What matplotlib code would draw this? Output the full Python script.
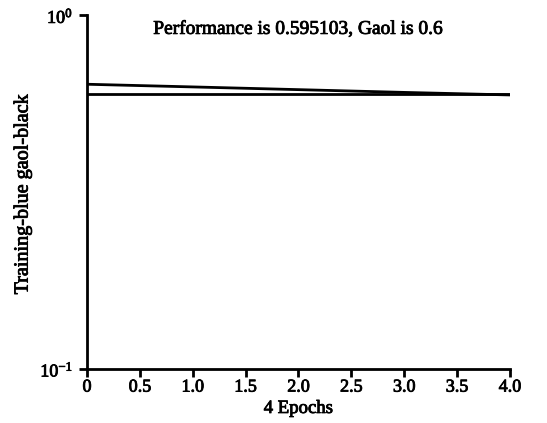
import matplotlib
matplotlib.use("Agg")
from matplotlib import pyplot as plt
from matplotlib import patheffects
from matplotlib.ticker import FixedLocator, NullLocator

plt.rcParams["font.family"] = ["Liberation Serif", "DejaVu Serif"]
plt.rcParams["mathtext.fontset"] = "custom"
plt.rcParams["mathtext.rm"] = "Liberation Serif"
plt.rcParams["mathtext.it"] = "Liberation Serif"

# training performance per epoch and the goal
epochs = [0, 1, 2, 3, 4]
training = [0.638, 0.627, 0.616, 0.605, 0.595103]
goal = [0.6, 0.6, 0.6, 0.6, 0.6]
x_ticks = [0, 0.5, 1.0, 1.5, 2.0, 2.5, 3.0, 3.5, 4.0]
x_tick_labels = ["0", "0.5", "1.0", "1.5", "2.0", "2.5", "3.0", "3.5", "4.0"]
y_ticks = [0.1, 1]
y_tick_labels = [r"$10^{-1}$", r"$10^{0}$"]

# scanned look: slightly heavier strokes on the text
heavy = [patheffects.withStroke(linewidth=0.6, foreground="black")]

fig = plt.figure(figsize=(5.47, 4.23), dpi=100)
ax = fig.add_axes([0.159, 0.128, 0.773, 0.836])

ax.semilogy(epochs, goal, color="black", lw=2)
ax.semilogy(epochs, training, color="black", lw=2)

ax.set_xlim(0, 4)
ax.set_ylim(0.1, 1)
ax.set_xticks(x_ticks)
ax.set_xticklabels(x_tick_labels)
ax.yaxis.set_major_locator(FixedLocator(y_ticks))
ax.yaxis.set_minor_locator(NullLocator())
ax.set_yticklabels(y_tick_labels)

for s in ["top", "right"]:
    ax.spines[s].set_visible(False)
for s in ["left", "bottom"]:
    ax.spines[s].set_linewidth(2)
ax.tick_params(width=2, length=6, labelsize=13, colors="black")
ax.tick_params(axis="x", pad=1)
ax.tick_params(axis="y", pad=4)

title = ax.text(2.0, 0.96, "Performance is 0.595103, Gaol is 0.6",
                transform=ax.get_xaxis_transform(), ha="center", va="center",
                fontsize=14)
ax.set_xlabel("4 Epochs", fontsize=13.5)
ax.set_ylabel("Training-blue gaol-black", fontsize=14.5)
ax.xaxis.set_label_coords(0.5, -0.112)
ax.xaxis.label.set_va("center")
ax.yaxis.set_label_coords(-0.151, 0.493)
ax.yaxis.label.set_va("center")

for t in [title, ax.xaxis.label, ax.yaxis.label] + ax.get_xticklabels() + ax.get_yticklabels():
    t.set_path_effects(heavy)

fig.savefig("out.png", dpi=100)
